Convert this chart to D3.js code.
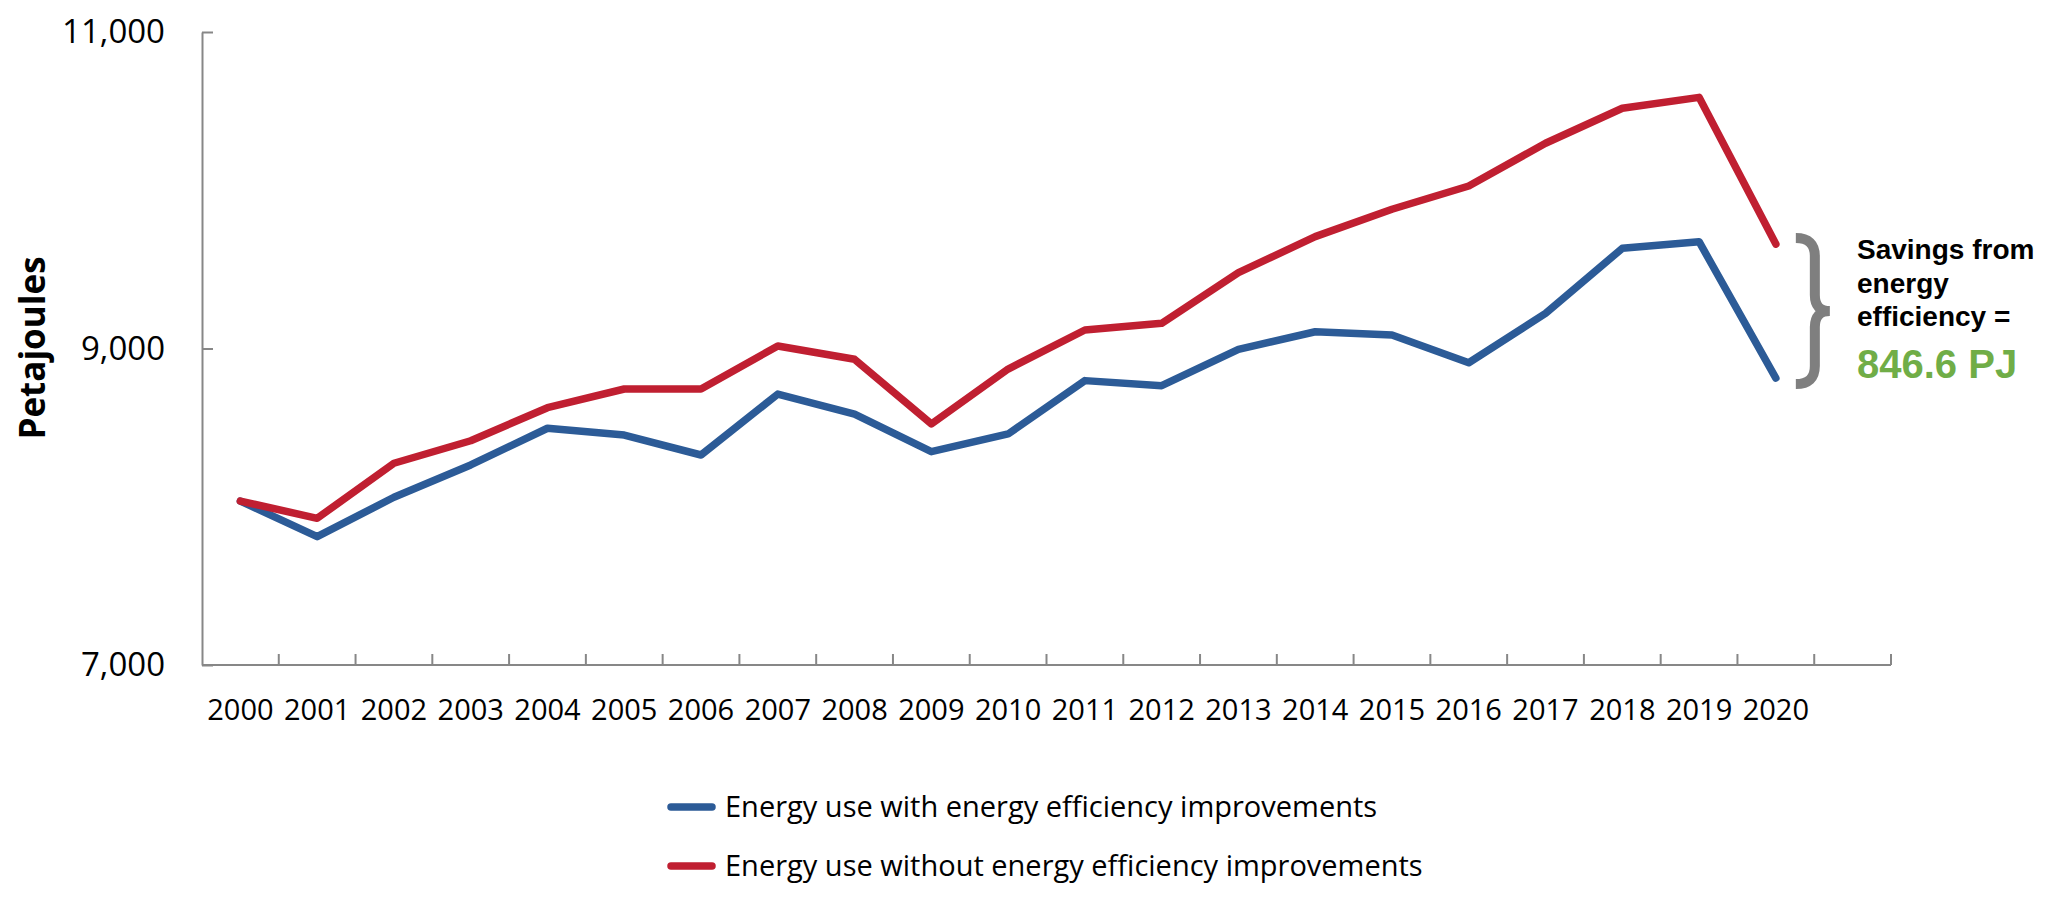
<!DOCTYPE html>
<html lang="en">
<head>
  <meta charset="UTF-8">
  <script src="https://cdnjs.cloudflare.com/ajax/libs/d3/7.8.5/d3.min.js"></script>
  <title>Energy use and energy efficiency savings</title>
  <style>
    body { margin: 0; background: #fff; }
    svg { display: block; }
  </style>
</head>
<body>
  <div id="chart"></div>
  <script>
  // data (petajoules)
  let years = ['2000', '2001', '2002', '2003', '2004', '2005', '2006', '2007', '2008', '2009', '2010',
               '2011', '2012', '2013', '2014', '2015', '2016', '2017', '2018', '2019', '2020'];
  let withEfficiency = [8036, 7811, 8060, 8264, 8496, 8453, 8327, 8712, 8586, 8348, 8460,
                        8797, 8765, 8995, 9106, 9085, 8910, 9222, 9633, 9675, 8813];
  let withoutEfficiency = [8036, 7927, 8275, 8417, 8626, 8744, 8744, 9016, 8932, 8523, 8870,
                           9117, 9159, 9479, 9707, 9880, 10027, 10297, 10518, 10587, 9660];
  let yTicks = [7000, 9000, 11000];
  let seriesNames = ['Energy use with energy efficiency improvements',
                     'Energy use without energy efficiency improvements'];
  let savingsLines = ['Savings from', 'energy', 'efficiency ='];
  let savingsValue = '846.6 PJ';

  let width = 2071;
  let height = 899;
  let blue = '#2c5b97';
  let red = '#c01f31';
  let axisGrey = '#878787';

  let svg = d3.select('#chart').append('svg')
    .attr('width', width)
    .attr('height', height);

  // Excel-style category axis: one empty slot after 2020
  let x = d3.scaleBand()
    .domain(years.concat(['']))
    .range([202, 1891]);

  let y = d3.scaleLinear()
    .domain([7000, 11000])
    .range([665, 32]);

  let cx = d => x(d) + x.bandwidth() / 2;

  // y axis
  let yAxis = svg.append('g')
    .attr('transform', 'translate(202,0)')
    .call(d3.axisLeft(y).tickValues(yTicks).tickSizeInner(-11).tickSizeOuter(0)
      .tickPadding(37).tickFormat(d3.format(',')));
  yAxis.select('.domain').attr('stroke', axisGrey).attr('stroke-width', 2);
  yAxis.selectAll('.tick line').attr('stroke', axisGrey).attr('stroke-width', 2);
  yAxis.selectAll('.tick text')
    .attr('font-family', 'Open Sans')
    .attr('font-size', 33)
    .attr('fill', '#000');

  // x axis labels
  let xAxis = svg.append('g')
    .attr('transform', 'translate(0,665)')
    .call(d3.axisBottom(x).tickValues(years).tickSize(0));
  xAxis.select('.domain').remove();
  xAxis.selectAll('.tick text')
    .attr('y', 55)
    .attr('dy', null)
    .attr('font-family', 'Open Sans')
    .attr('font-size', 29)
    .attr('fill', '#000');

  // x axis line and tick marks between categories
  svg.append('line')
    .attr('x1', x.range()[0]).attr('x2', x.range()[1])
    .attr('y1', y(7000)).attr('y2', y(7000))
    .attr('stroke', axisGrey).attr('stroke-width', 2);
  svg.selectAll('.xtick')
    .data(x.domain())
    .enter()
    .append('line')
    .attr('class', 'xtick')
    .attr('x1', d => x(d) + x.bandwidth())
    .attr('x2', d => x(d) + x.bandwidth())
    .attr('y1', y(7000))
    .attr('y2', y(7000) - 11)
    .attr('stroke', axisGrey)
    .attr('stroke-width', 2);

  // y axis title
  svg.append('text')
    .attr('transform', 'translate(45,348) rotate(-90)')
    .attr('text-anchor', 'middle')
    .attr('font-family', 'Open Sans')
    .attr('font-weight', 'bold')
    .attr('font-size', 35)
    .attr('fill', '#000')
    .text('Petajoules');

  // lines
  let line = d3.line()
    .x((d, i) => cx(years[i]))
    .y(d => y(d));

  let series = [
    { name: seriesNames[0], values: withEfficiency, color: blue },
    { name: seriesNames[1], values: withoutEfficiency, color: red }
  ];

  svg.selectAll('.series')
    .data(series)
    .enter()
    .append('path')
    .attr('class', 'series')
    .attr('d', d => line(d.values))
    .attr('fill', 'none')
    .attr('stroke', d => d.color)
    .attr('stroke-width', 7.5)
    .attr('stroke-linejoin', 'round')
    .attr('stroke-linecap', 'round');

  // legend
  let legend = svg.selectAll('.legend')
    .data(series)
    .enter()
    .append('g')
    .attr('class', 'legend')
    .attr('transform', (d, i) => 'translate(668,' + (807 + i * 59) + ')');
  legend.append('line')
    .attr('x1', 3).attr('x2', 44)
    .attr('y1', 0).attr('y2', 0)
    .attr('stroke', d => d.color)
    .attr('stroke-width', 7.5)
    .attr('stroke-linecap', 'round');
  legend.append('text')
    .attr('x', 57)
    .attr('y', 10)
    .attr('font-family', 'Open Sans')
    .attr('font-size', 29)
    .attr('fill', '#000')
    .text(d => d.name);

  // savings brace, spanning the gap at the last year
  let lastYear = years[years.length - 1];
  let bx = cx(lastYear) + 20;
  let braceTop = y(withoutEfficiency[withoutEfficiency.length - 1]) - 6;
  let braceBottom = y(withEfficiency[withEfficiency.length - 1]) + 6;
  let braceMid = (braceTop + braceBottom) / 2;
  let vx = bx + 19;
  svg.append('path')
    .attr('d', 'M' + bx + ',' + braceTop +
      ' Q' + vx + ',' + braceTop + ' ' + vx + ',' + (braceTop + 18) +
      ' L' + vx + ',' + (braceMid - 16) +
      ' Q' + vx + ',' + braceMid + ' ' + (vx + 15) + ',' + braceMid +
      ' Q' + vx + ',' + braceMid + ' ' + vx + ',' + (braceMid + 16) +
      ' L' + vx + ',' + (braceBottom - 18) +
      ' Q' + vx + ',' + braceBottom + ' ' + bx + ',' + braceBottom)
    .attr('fill', 'none')
    .attr('stroke', '#7f7f7f')
    .attr('stroke-width', 10);

  let note = svg.append('g').attr('transform', 'translate(1857,0)');
  note.selectAll('.note')
    .data(savingsLines)
    .enter()
    .append('text')
    .attr('class', 'note')
    .attr('x', 0)
    .attr('y', (d, i) => 259 + i * 33.5)
    .attr('font-family', 'Liberation Sans')
    .attr('font-weight', 'bold')
    .attr('font-size', 28)
    .attr('fill', '#000')
    .text(d => d);
  note.append('text')
    .attr('x', 0)
    .attr('y', 378)
    .attr('font-family', 'Liberation Sans')
    .attr('font-weight', 'bold')
    .attr('font-size', 40)
    .attr('fill', '#70ad47')
    .text(savingsValue);
  </script>
</body>
</html>
